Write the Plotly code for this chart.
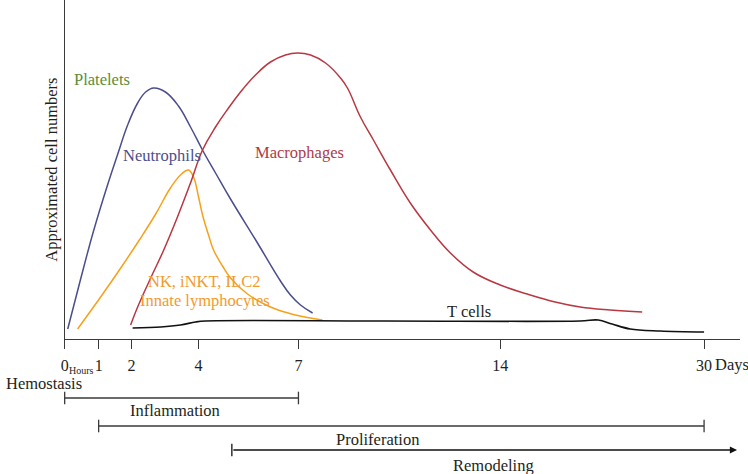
import numpy as np
import plotly.graph_objects as go

# ---- axis scale (non-linear time axis) ----
TICK_DAYS = [0, 1, 2, 4, 7, 14, 30]
TICK_LABELS = ["0", "1", "2", "4", "7", "14", "30"]
TICK_POS = [64, 98, 131, 198, 298, 500, 704]   # axis units of each tick day

# ---- series (x in days, y in approximate relative cell numbers) ----
neut_days = [0.09, 0.47, 0.85, 1.27, 1.58, 1.88, 2.18, 2.42, 2.66, 3.01, 3.40, 3.76,
             4.15, 4.51, 4.96, 5.77, 6.46, 6.76, 7.07, 7.49]
neut_vals = [10, 60, 108, 154, 185, 214, 236, 247, 251, 247, 233, 212,
             187, 166, 140, 96, 58, 44, 34, 26]

innate_days = [0.38, 1.06, 1.67, 2.27, 2.72, 3.16, 3.49, 3.70, 3.85,
               4.00, 4.12, 4.30, 4.45, 4.72, 4.96, 5.47, 6.16, 6.91, 7.83]
innate_vals = [10, 42, 71, 101, 125, 151, 165, 169, 162,
               142, 124, 104, 89, 73, 61, 45, 32, 24, 19]

macro_days = [1.97, 2.18, 2.57, 2.96, 3.37, 3.76, 4.12, 4.51, 4.90, 5.26, 5.71, 6.16,
              6.61, 6.97, 7.42, 7.94, 8.46, 8.70, 9.15, 9.60, 10.19, 10.88, 11.58,
              12.27, 13.06, 14.0, 16.12, 18.31, 20.27, 22.63, 25.14]
macro_vals = [14, 32, 61, 89, 122, 156, 189, 212, 231, 247, 264, 277,
              284, 286, 284, 276, 261, 251, 222, 199, 169, 136, 109,
              86, 67, 54, 45, 37, 32, 29, 27]

tcell_days = [2.03, 2.87, 3.46, 3.91, 4.21, 10.0, 20.27, 21.69, 22.78, 24.20, 26.55, 30.0]
tcell_vals = [11, 12, 14, 17, 18, 18, 18, 19, 15, 10, 8, 7]

# ---- phases (start/end in days) ----
phase_names = ["Hemostasis", "Inflammation", "Proliferation", "Remodeling"]
bar_start = [0, 1]
bar_end = [7, 30]
arrow_start = 5

W, H = 748, 474
Y_TOP = 339  # y-range of the main panel
FONT = "Liberation Serif"

def xs(days):
    return np.interp(days, TICK_DAYS, TICK_POS)

def px(x):
    return x / W

def py(y):
    return 1 - y / H

C_NEUT = "#4a4e8d"
C_INN = "#f7a11a"
C_MAC = "#b83842"
C_T = "#111111"
C_PLT = "#5b8c3a"
AX = "#3a3a3a"

fig = go.Figure()

def curve(d, v, color, width=1.5, smoothing=1.0):
    fig.add_trace(go.Scatter(x=xs(d), y=v, mode="lines",
                             line=dict(color=color, width=width, shape="spline", smoothing=smoothing),
                             hoverinfo="skip", showlegend=False))

curve(neut_days, neut_vals, C_NEUT, smoothing=1.2)
curve(innate_days, innate_vals, C_INN, smoothing=1.2)
curve(macro_days, macro_vals, C_MAC, smoothing=1.2)
curve(tcell_days, tcell_vals, C_T, 1.6)

# phase bars on a lower panel
lane_y = [76, 48]
for s, e, ly in zip(bar_start, bar_end, lane_y):
    fig.add_trace(go.Scatter(x=xs([s, e]), y=[ly, ly], xaxis="x", yaxis="y2",
                             mode="lines+markers",
                             line=dict(color=AX, width=1.3),
                             marker=dict(symbol="line-ns", size=9, line=dict(color=AX, width=1.3)),
                             cliponaxis=False, hoverinfo="skip", showlegend=False))
fig.add_trace(go.Scatter(x=xs([arrow_start]), y=[24], xaxis="x", yaxis="y2",
                         mode="markers",
                         marker=dict(symbol="line-ns", size=9, line=dict(color="#111", width=1.3)),
                         cliponaxis=False, hoverinfo="skip", showlegend=False))
fig.add_annotation(x=737, y=24, ax=float(xs([arrow_start])[0]), ay=24,
                   xref="x", yref="y2", axref="x", ayref="y2",
                   showarrow=True, arrowhead=2, arrowsize=1.1, arrowwidth=1.3,
                   arrowcolor="#111", text="")

fig.update_layout(
    width=W, height=H,
    margin=dict(l=0, r=0, t=0, b=0),
    paper_bgcolor="white", plot_bgcolor="white",
    font=dict(family=FONT, size=16, color="#231f20"),
    xaxis=dict(domain=[61 / W, 740 / W], range=[64, 740], showgrid=False, zeroline=False,
               showline=True, linecolor=AX, linewidth=1.4,
               ticks="outside", ticklen=9, tickwidth=1.3, tickcolor=AX,
               tickvals=list(xs(TICK_DAYS)), ticktext=TICK_LABELS,
               tickfont=dict(family=FONT, size=16, color="#231f20"),
               ticklabelstandoff=3, anchor="y"),
    yaxis=dict(domain=[1 - Y_TOP / H, 1], range=[0, Y_TOP], showgrid=False, zeroline=False,
               showline=True, linecolor=AX, linewidth=1.4, showticklabels=False, ticks=""),
    yaxis2=dict(domain=[0, 1 - Y_TOP / H], range=[0, H - Y_TOP], visible=False, anchor="x"),
)

def label(text, x, y, color="#231f20", xanchor="center", size=16.5, angle=0):
    fig.add_annotation(text=text, x=px(x), y=py(y), xref="paper", yref="paper",
                       showarrow=False, xanchor=xanchor, yanchor="middle",
                       font=dict(family=FONT, size=size, color=color), textangle=angle)

label("Platelets", 68, 80, C_PLT, xanchor="left")
label("Neutrophils", 159, 155, C_NEUT)
label("Macrophages", 297, 153, "#b03a48")
label("NK, iNKT, ILC2", 201, 281, "#f39a2e")
label("Innate lymphocytes", 202, 300, "#f39a2e")
label("T cells", 467, 311)
label("Approximated cell numbers", 47, 170, angle=-90, size=16.5)
label("Hours", 63, 370, xanchor="left", size=10)
label("Days", 713, 364, xanchor="left")
label(phase_names[0], 0, 383, xanchor="left")
label(phase_names[1], 172, 410)
label(phase_names[2], 376, 439)
label(phase_names[3], 492, 465)

fig.write_html("out.html", config={"displayModeBar": False},
               post_script="document.body.style.margin='0';document.body.style.overflow='hidden';")
